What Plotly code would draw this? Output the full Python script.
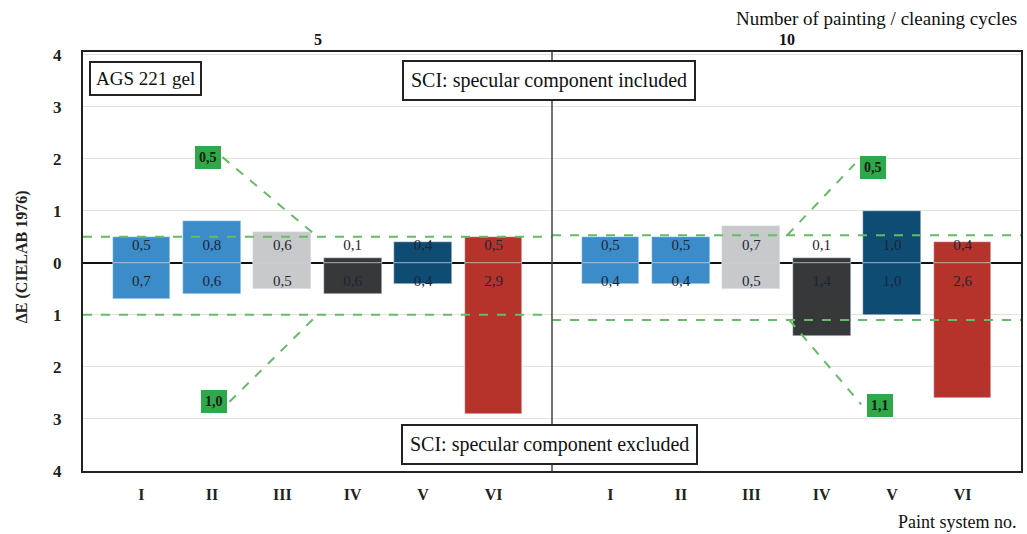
import plotly.graph_objects as go

# ---- data ----
systems = ["I", "II", "III", "IV", "V", "VI"]
cycles = ["5", "10"]
incl_5 = [0.5, 0.8, 0.6, 0.1, 0.4, 0.5]
excl_5 = [0.7, 0.6, 0.5, 0.6, 0.4, 2.9]
incl_10 = [0.5, 0.5, 0.7, 0.1, 1.0, 0.4]
excl_10 = [0.4, 0.4, 0.5, 1.4, 1.0, 2.6]
thr_incl = [0.5, 0.53]   # dashed thresholds (labelled 0,5 / 0,5)
thr_excl = [1.0, 1.1]    # dashed thresholds (labelled 1,0 / 1,1)
thr_labels_incl = ["0,5", "0,5"]
thr_labels_excl = ["1,0", "1,1"]
yticks = [-4, -3, -2, -1, 0, 1, 2, 3, 4]

colors = ["#3b8cc9", "#3b8cc9", "#c8c9cb", "#363839", "#0f4c74", "#b5332a"]
SERIF = "Liberation Serif"
TXT = "#1c2636"

GAP = 6.66
xpos1 = list(range(6))
xpos2 = [i + GAP for i in range(6)]
xs = xpos1 + xpos2
incl = incl_5 + incl_10
excl = excl_5 + excl_10
cols = colors + colors
fmt = lambda v: f"{v:.1f}".replace(".", ",")

fig = go.Figure()
fig.add_trace(go.Bar(x=xs, y=incl, marker_color=cols, width=0.82, showlegend=False))
fig.add_trace(go.Bar(x=xs, y=[-v for v in excl], marker_color=cols, width=0.82, showlegend=False))
fig.add_trace(go.Scatter(x=xs, y=[0.32] * 12, mode="text", text=[fmt(v) for v in incl],
                         textfont=dict(family=SERIF, size=15, color=TXT), showlegend=False))
fig.add_trace(go.Scatter(x=xs, y=[-0.37] * 12, mode="text", text=[fmt(v) for v in excl],
                         textfont=dict(family=SERIF, size=15, color=TXT), showlegend=False))

XL, XR = -0.83, 12.49
DIV = 5.83
green_line = dict(color="#66bb66", width=2, dash="dash")
shapes = [
    dict(type="line", x0=XL, x1=DIV, y0=thr_incl[0], y1=thr_incl[0], line=green_line),
    dict(type="line", x0=DIV, x1=XR, y0=thr_incl[1], y1=thr_incl[1], line=green_line),
    dict(type="line", x0=XL, x1=DIV, y0=-thr_excl[0], y1=-thr_excl[0], line=green_line),
    dict(type="line", x0=DIV, x1=XR, y0=-thr_excl[1], y1=-thr_excl[1], line=green_line),
    dict(type="line", x0=1.15, y0=2.03, x1=2.5, y1=thr_incl[0], line=green_line),
    dict(type="line", x0=1.25, y0=-2.67, x1=2.5, y1=-thr_excl[0], line=green_line),
    dict(type="line", x0=9.17, y0=thr_incl[1], x1=10.13, y1=1.90, line=green_line),
    dict(type="line", x0=9.20, y0=-thr_excl[1], x1=10.22, y1=-2.72, line=green_line),
    dict(type="line", x0=DIV, x1=DIV, y0=-4, y1=4.05, line=dict(color="#444", width=1.5)),
]

anns = []
for (x, y, t) in [(0.94, 2.03, thr_labels_incl[0]), (1.03, -2.67, thr_labels_excl[0]),
                  (10.39, 1.84, thr_labels_incl[1]), (10.49, -2.74, thr_labels_excl[1])]:
    anns.append(dict(x=x, y=y, text=f"<b>{t}</b>", showarrow=False, bgcolor="#2fa84a",
                     font=dict(family=SERIF, size=14, color="#102010"),
                     borderpad=4, borderwidth=0))
# boxes
anns.append(dict(xref="paper", yref="paper", x=0.0064, y=0.9785, xanchor="left", yanchor="top",
                 text="AGS 221 gel", showarrow=False, bgcolor="white", bordercolor="#222",
                 borderwidth=2, borderpad=5, font=dict(family=SERIF, size=19, color="#111")))
anns.append(dict(xref="paper", yref="paper", x=0.497, y=0.931, yanchor="middle",
                 text="SCI: specular component included",
                 showarrow=False, bgcolor="white", bordercolor="#222", borderwidth=2, borderpad=7,
                 font=dict(family=SERIF, size=20, color="#111")))
anns.append(dict(xref="paper", yref="paper", x=0.497, y=0.064, yanchor="middle",
                 text="SCI: specular component excluded",
                 showarrow=False, bgcolor="white", bordercolor="#222", borderwidth=2, borderpad=7,
                 font=dict(family=SERIF, size=20, color="#111")))
# top group labels
for x, t in [(2.5, cycles[0]), (GAP + 2.5, cycles[1])]:
    anns.append(dict(x=x, yref="paper", y=1.029, yanchor="middle", text=f"<b>{t}</b>",
                     showarrow=False, font=dict(family=SERIF, size=16, color="#111")))
anns.append(dict(xref="paper", yref="paper", x=0.998, y=1.081, xanchor="right", yanchor="middle",
                 text="Number of painting / cleaning cycles", showarrow=False,
                 font=dict(family=SERIF, size=19, color="#111")))
anns.append(dict(xref="paper", yref="paper", x=0.998, y=-0.122, xanchor="right", yanchor="middle",
                 text="Paint system no.", showarrow=False,
                 font=dict(family=SERIF, size=18, color="#111")))
anns.append(dict(xref="paper", yref="paper", x=-0.076, y=0.512, textangle=-90,
                 text="<b>ΔE (CIELAB 1976)</b>", showarrow=False,
                 font=dict(family=SERIF, size=16, color="#222")))

fig.update_layout(
    width=1027, height=534,
    margin=dict(l=83, r=4, t=52, b=63),
    paper_bgcolor="white", plot_bgcolor="white",
    barmode="relative", bargap=0,
    shapes=shapes, annotations=anns,
    xaxis=dict(range=[XL, XR], tickvals=xs, ticktext=[f"<b>{s}</b>" for s in systems * 2],
               showgrid=False, zeroline=False, showline=True, mirror=True, linewidth=2,
               linecolor="#222", ticks="outside", ticklen=8, tickcolor="rgba(0,0,0,0)",
               tickfont=dict(family=SERIF, size=16, color="#222")),
    yaxis=dict(range=[-4, 4.05], tickvals=yticks, ticktext=[f"<b>{abs(v)}</b>" for v in yticks],
               showgrid=True, gridcolor="#e6e1dc", gridwidth=1, zeroline=True, zerolinecolor="#111",
               zerolinewidth=2, showline=True, mirror=True, linewidth=2, linecolor="#222",
               ticks="outside", ticklen=16, tickcolor="rgba(0,0,0,0)",
               tickfont=dict(family=SERIF, size=17, color="#222")),
)
fig.write_html("out.html")
